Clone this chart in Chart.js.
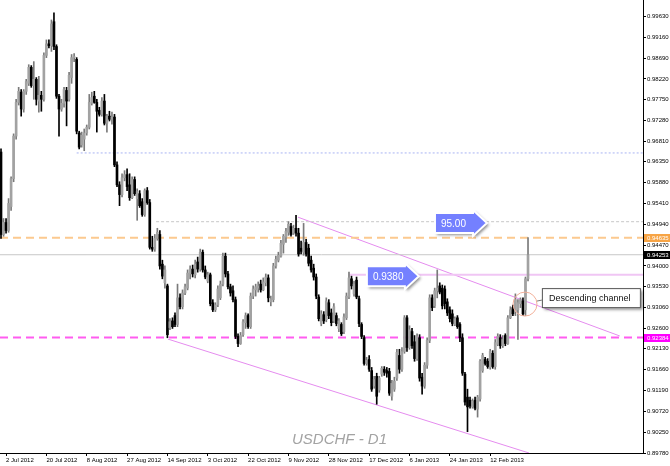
<!DOCTYPE html>
<html>
<head>
<meta charset="utf-8">
<script src="https://cdn.jsdelivr.net/npm/chart.js@4.4.1/dist/chart.umd.min.js"></script>
<style>
html, body { margin: 0; padding: 0; background: #fff; }
#contenedor { width: 670px; height: 466px; }
</style>
</head>
<body>
<div id="contenedor"><canvas id="grafica" width="670" height="466"></canvas></div>
<script>
// USDCHF D1 - precios x10000 (una vela por indice)
var aperturas = [
 9657,9471,9498,9480,9534,9597,9693,9769,9792,9754, 9794,9812,9848,9807,9821,9772,9785,9776,9875,9901,
 9897,9951,9895,9783,9754,9767,9796,9776,9825,9870, 9866,9700,9673,9686,9700,9713,9767,9783,9769,9751,
 9742,9772,9722,9738,9731,9736,9628,9583,9561,9599, 9606,9583,9554,9595,9552,9563,9545,9516,9570,9543,
 9442,9438,9462,9471,9404,9362,9355,9261,9276,9288, 9268,9328,9308,9339,9350,9382,9393,9380,9409,9393,
 9431,9391,9366,9380,9317,9301,9312,9328,9359,9422, 9382,9353,9344,9324,9241,9225,9245,9272,9288,9263,
 9332,9346,9350,9359,9346,9362,9373,9319,9324,9400, 9413,9422,9449,9465,9476,9489,9474,9485,9474,9440,
 9431,9453,9440,9413,9395,9375,9330,9270,9290,9279, 9317,9294,9276,9288,9259,9268,9252,9283,9330,9371,
 9337,9368,9326,9268,9238,9180,9189,9164,9129,9151, 9120,9156,9167,9164,9162,9106,9122,9147,9198,9167,
 9207,9283,9216,9252,9229,9191,9238,9149,9129,9176, 9232,9328,9310,9344,9355,9350,9348,9319,9301,9292,
 9268,9283,9268,9238,9156,9104,9097,9082,9097,9077, 9100,9164,9189,9185,9171,9203,9173,9223,9238,9220,
 9243,9225,9283,9306,9297,9301,9315,9321,9301,9371
];
var maximos = [
 9664,9507,9507,9552,9601,9698,9776,9803,9798,9798, 9821,9854,9852,9861,9825,9828,9794,9881,9910,9910,
 9955,9971,9899,9787,9776,9803,9803,9837,9877,9879, 9870,9704,9702,9709,9718,9787,9792,9794,9776,9758,
 9780,9787,9742,9749,9747,9742,9635,9590,9608,9615, 9619,9608,9601,9601,9574,9570,9552,9574,9577,9550,
 9467,9471,9485,9480,9413,9400,9359,9281,9283,9294, 9359,9337,9346,9359,9391,9400,9402,9413,9420,9438,
 9436,9400,9386,9384,9324,9317,9355,9366,9429,9429, 9388,9359,9355,9330,9247,9250,9279,9294,9292,9339,
 9355,9359,9364,9368,9373,9382,9380,9332,9406,9422, 9431,9458,9471,9485,9500,9496,9492,9514,9485,9456,
 9496,9460,9449,9422,9404,9382,9335,9299,9297,9328, 9324,9303,9315,9294,9281,9272,9292,9339,9386,9377,
 9366,9375,9332,9272,9243,9194,9198,9171,9151,9158, 9151,9173,9173,9171,9169,9142,9149,9212,9212,9216,
 9288,9288,9265,9259,9243,9247,9245,9158,9182,9238, 9335,9335,9350,9391,9362,9357,9355,9326,9308,9301,
 9285,9288,9272,9247,9160,9122,9104,9100,9104,9108, 9189,9203,9194,9191,9212,9209,9234,9247,9245,9243,
 9247,9288,9308,9312,9337,9324,9328,9328,9375,9464
];
var minimos = [
 9462,9467,9474,9476,9525,9590,9686,9763,9738,9747, 9787,9807,9803,9776,9763,9747,9749,9772,9870,9892,
 9884,9888,9778,9693,9749,9758,9716,9772,9812,9861, 9698,9664,9668,9660,9695,9709,9763,9767,9702,9738,
 9738,9718,9702,9727,9720,9624,9579,9536,9556,9592, 9570,9548,9552,9559,9503,9532,9512,9512,9539,9438,
 9433,9433,9458,9393,9371,9350,9238,9256,9259,9263, 9263,9303,9303,9335,9346,9371,9375,9373,9386,9388,
 9386,9371,9362,9310,9297,9297,9308,9324,9355,9375, 9348,9332,9319,9236,9218,9223,9241,9259,9259,9259,
 9326,9332,9341,9341,9344,9355,9319,9310,9319,9395, 9409,9420,9429,9453,9469,9467,9471,9467,9422,9427,
 9424,9422,9400,9386,9368,9326,9276,9265,9270,9274, 9281,9265,9272,9265,9252,9243,9247,9279,9326,9348,
 9332,9326,9263,9236,9176,9176,9162,9117,9124,9088, 9115,9151,9153,9149,9108,9097,9117,9142,9158,9162,
 9203,9207,9212,9214,9185,9187,9140,9111,9124,9169, 9227,9299,9306,9328,9337,9303,9303,9288,9274,9265,
 9265,9259,9229,9153,9086,9026,9079,9079,9075,9059, 9095,9160,9176,9169,9167,9169,9167,9220,9214,9216,
 9220,9223,9281,9288,9288,9234,9306,9288,9288,9366
];
var cierres = [
 9471,9498,9480,9541,9597,9693,9769,9794,9754,9794, 9816,9848,9807,9821,9776,9785,9776,9875,9901,9897,
 9946,9895,9783,9754,9767,9798,9772,9830,9870,9872, 9704,9668,9695,9700,9713,9769,9780,9769,9749,9742,
 9772,9722,9738,9731,9736,9628,9583,9561,9599,9606, 9579,9554,9595,9563,9568,9536,9516,9570,9543,9442,
 9438,9462,9476,9400,9377,9391,9245,9274,9263,9268, 9328,9308,9339,9353,9384,9393,9382,9404,9393,9431,
 9391,9375,9380,9315,9301,9312,9348,9359,9422,9382, 9353,9339,9324,9241,9225,9243,9274,9288,9263,9332,
 9348,9353,9355,9346,9364,9375,9328,9326,9400,9415, 9424,9451,9467,9478,9494,9471,9485,9474,9427,9433,
 9453,9427,9406,9391,9375,9332,9281,9292,9276,9321, 9288,9272,9308,9270,9276,9247,9285,9332,9373,9355,
 9359,9330,9270,9241,9180,9187,9167,9122,9144,9106, 9147,9169,9160,9158,9113,9135,9140,9205,9167,9207,
 9283,9216,9256,9220,9191,9241,9147,9129,9176,9232, 9328,9306,9344,9350,9341,9310,9315,9294,9281,9270,
 9281,9263,9238,9158,9093,9082,9084,9095,9079,9104, 9185,9198,9180,9173,9207,9173,9227,9241,9220,9234,
 9225,9283,9301,9292,9324,9317,9324,9292,9371,9425
];

// eje de tiempo: indice de vela de cada etiqueta
var indicesFechas = [2, 18, 34, 50, 66, 82, 98, 114, 130, 146, 162, 178, 194];
var etiquetasFechas = ['2 Jul 2012', '20 Jul 2012', '8 Aug 2012', '27 Aug 2012', '14 Sep 2012', '3 Oct 2012',
  '22 Oct 2012', '9 Nov 2012', '28 Nov 2012', '17 Dec 2012', '6 Jan 2013', '24 Jan 2013', '12 Feb 2013'];

// eje de precios
var marcasPrecio = [0.99630, 0.99160, 0.98690, 0.98220, 0.97750, 0.97280, 0.96810, 0.96350, 0.95880, 0.95410,
  0.94940, 0.94470, 0.94000, 0.93530, 0.93060, 0.92600, 0.92130, 0.91660, 0.91190, 0.90720, 0.90250, 0.89780];

// niveles horizontales: precio e indice donde empiezan
var nivelesPrecio = [0.94635, 0.94253, 0.92384, 0.9655, 0.9500, 0.9380];
var nivelesInicio = [-0.4, -0.4, -0.4, 30, 61.5, 138];

// canal descendente: [indice, precio] de cada extremo
var canalSuperior = [[117.8, 0.9510], [245.4, 0.9242]];
var canalInferior = [[66.2, 0.9235], [209.4, 0.8978]];

// etiquetas de color sobre el eje de precios
var etiquetasEje = [0.94635, 0.94253, 0.92384];
var coloresEtiquetas = ['#f7a445', '#000000', '#ff00ff'];

// flechas de texto: texto, indice, precio
var flechasTexto = ['95.00', '0.9380'];
var flechasIndice = [172.1, 145.1];
var flechasPrecio = [0.9497, 0.9377];

var X_MIN = -0.4, X_MAX = 254.6;

var datosMecha = [];
var datosCuerpo = [];
for (var i = 0; i < cierres.length; i++) {
  datosMecha.push({x: i, y: [minimos[i] / 10000, maximos[i] / 10000]});
  datosCuerpo.push({x: i, y: [aperturas[i] / 10000, cierres[i] / 10000]});
}

function esAlcista(i) { return cierres[i] >= aperturas[i]; }

function linea(puntos, color, ancho, guiones) {
  return {
    type: 'line',
    data: puntos,
    borderColor: color,
    borderWidth: ancho,
    borderDash: guiones || [],
    pointRadius: 0,
    fill: false,
    tension: 0,
    order: 5
  };
}

var datasets = [
  {
    type: 'bar', data: datosCuerpo, grouped: false, barThickness: 2, minBarLength: 1, order: 0,
    backgroundColor: function(c) { return esAlcista(c.dataIndex) ? '#a2a2a2' : '#000000'; }
  },
  {
    type: 'bar', data: datosMecha, grouped: false, barThickness: 1, order: 1,
    backgroundColor: function(c) { return esAlcista(c.dataIndex) ? '#7a7a7a' : '#000000'; }
  }
];

var estilosNiveles = [
  ['#fcc98f', 2, [8, 5]],
  ['#c8c8c8', 1, []],
  ['#ff5cf0', 2, [8, 5]],
  ['#c6cdf7', 1.5, [2, 2]],
  ['#d2d2d2', 1.2, [3, 2]],
  ['#f0c6f4', 2, []]
];
for (var n = 0; n < nivelesPrecio.length; n++) {
  datasets.push(linea([{x: nivelesInicio[n], y: nivelesPrecio[n]}, {x: X_MAX, y: nivelesPrecio[n]}],
    estilosNiveles[n][0], estilosNiveles[n][1], estilosNiveles[n][2]));
}
datasets.push(linea(canalSuperior.map(function(p) { return {x: p[0], y: p[1]}; }), '#e58cef', 1));
datasets.push(linea(canalInferior.map(function(p) { return {x: p[0], y: p[1]}; }), '#e58cef', 1));

var FUENTE = '"Liberation Sans", Arial, sans-serif';

function dibujarFlecha(c, x, yc, texto) {
  var ancho = 38, alto = 20, punta = 14;
  c.save();
  c.beginPath();
  c.moveTo(x, yc - alto / 2);
  c.lineTo(x + ancho, yc - alto / 2);
  c.lineTo(x + ancho, yc - alto / 2 - 3);
  c.lineTo(x + ancho + punta, yc);
  c.lineTo(x + ancho, yc + alto / 2 + 3);
  c.lineTo(x + ancho, yc + alto / 2);
  c.lineTo(x, yc + alto / 2);
  c.closePath();
  c.shadowColor = 'rgba(0,0,0,0.45)';
  c.shadowBlur = 3;
  c.shadowOffsetX = 2;
  c.shadowOffsetY = 2;
  c.fillStyle = '#7480ff';
  c.fill();
  c.shadowColor = 'transparent';
  c.strokeStyle = '#ffffff';
  c.lineWidth = 2;
  c.stroke();
  c.fillStyle = '#ffffff';
  c.font = '10px ' + FUENTE;
  c.textBaseline = 'middle';
  c.textAlign = 'left';
  c.fillText(texto, x + 6, yc + 1);
  c.restore();
}

var pluginAnotaciones = {
  id: 'anotaciones',
  afterDraw: function(chart) {
    var c = chart.ctx, ex = chart.scales.x, ey = chart.scales.y;
    var k, yy;
    c.save();
    // etiquetas de precio en el eje derecho
    c.font = '6px ' + FUENTE;
    c.textBaseline = 'middle';
    c.textAlign = 'left';
    for (k = 0; k < etiquetasEje.length; k++) {
      yy = Math.round(ey.getPixelForValue(etiquetasEje[k]));
      c.fillStyle = coloresEtiquetas[k];
      c.fillRect(ex.right + 1, yy - 4, 26, 8);
      c.fillStyle = '#ffffff';
      c.fillText(etiquetasEje[k].toFixed(5), ex.right + 4, yy);
    }
    // flechas azules
    for (k = 0; k < flechasTexto.length; k++) {
      dibujarFlecha(c, ex.getPixelForValue(flechasIndice[k]), ey.getPixelForValue(flechasPrecio[k]), flechasTexto[k]);
    }
    // circulo y caja "Descending channel"
    var cx = ex.getPixelForValue(207.8), cy = ey.getPixelForValue(0.9314);
    c.beginPath();
    c.arc(cx, cy, 12, 0, Math.PI * 2);
    c.strokeStyle = '#f2b09a';
    c.lineWidth = 1;
    c.stroke();
    c.beginPath();
    c.moveTo(cx + 12, cy - 3);
    c.lineTo(cx + 17, cy - 4);
    c.strokeStyle = '#777777';
    c.stroke();
    var bx = ex.getPixelForValue(214.5), by = ey.getPixelForValue(0.9350);
    c.shadowColor = 'rgba(0,0,0,0.5)';
    c.shadowBlur = 3;
    c.shadowOffsetX = 2;
    c.shadowOffsetY = 2;
    c.fillStyle = '#ffffff';
    c.fillRect(bx, by, 99, 20);
    c.shadowColor = 'transparent';
    c.strokeStyle = '#555555';
    c.strokeRect(bx + 0.5, by + 0.5, 98, 19);
    c.fillStyle = '#111111';
    c.font = '9px ' + FUENTE;
    c.fillText('Descending channel', bx + 7, by + 10.5);
    // titulo del simbolo
    c.fillStyle = '#a3a3a3';
    c.font = 'italic 15px ' + FUENTE;
    c.textBaseline = 'alphabetic';
    c.fillText('USDCHF - D1', 292, 444);
    c.restore();
  }
};

var ctx = document.getElementById('grafica').getContext('2d');
var grafica = new Chart(ctx, {
  type: 'bar',
  data: {datasets: datasets},
  options: {
    responsive: false,
    devicePixelRatio: 1,
    animation: false,
    layout: {padding: 0},
    plugins: {legend: {display: false}, tooltip: {enabled: false}},
    scales: {
      x: {
        type: 'linear', min: X_MIN, max: X_MAX, offset: false,
        grid: {drawOnChartArea: false, offset: false, tickLength: 3, color: '#000000'},
        border: {display: true, color: '#000000'},
        ticks: {
          font: {size: 6, family: FUENTE}, color: '#000000', align: 'start', padding: 1,
          maxRotation: 0, autoSkip: false,
          callback: function(v) {
            var p = indicesFechas.indexOf(v);
            return p >= 0 ? etiquetasFechas[p] : '';
          }
        },
        afterBuildTicks: function(s) {
          s.ticks = indicesFechas.map(function(v) { return {value: v}; });
        },
        afterFit: function(s) {
          s.height = 13;
          s.paddingLeft = 0; s.paddingRight = 0; s.paddingTop = 0; s.paddingBottom = 0;
        }
      },
      y: {
        type: 'linear', position: 'right', min: 0.8978, max: 1.0,
        grid: {drawOnChartArea: false, tickLength: 3, color: '#000000'},
        border: {display: true, color: '#000000'},
        ticks: {
          font: {size: 6, family: FUENTE}, color: '#000000', padding: 1,
          callback: function(v) { return v.toFixed(5); }
        },
        afterBuildTicks: function(s) {
          s.ticks = marcasPrecio.map(function(v) { return {value: v}; });
        },
        afterFit: function(s) {
          s.width = 27;
          s.paddingLeft = 0; s.paddingRight = 0; s.paddingTop = 0; s.paddingBottom = 0;
        }
      }
    }
  },
  plugins: [pluginAnotaciones]
});
</script>
</body>
</html>
